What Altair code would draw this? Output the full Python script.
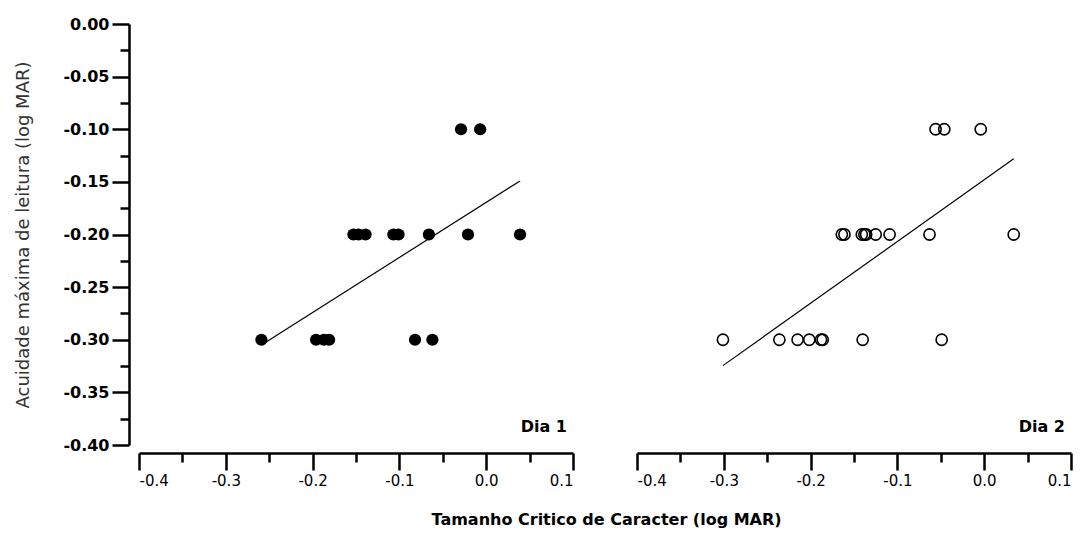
import altair as alt
import pandas as pd

# ---- data ----
d1_x = [-0.029, -0.007,
        -0.153, -0.147, -0.139, -0.107, -0.101, -0.066, -0.021, 0.039,
        -0.259, -0.196, -0.187, -0.181, -0.082, -0.062]
d1_y = [-0.1] * 2 + [-0.2] * 8 + [-0.3] * 6

d2_x = [-0.056, -0.046, -0.004,
        -0.164, -0.161, -0.141, -0.138, -0.136, -0.125, -0.109, -0.063, 0.034,
        -0.301, -0.236, -0.215, -0.2015, -0.188, -0.186, -0.140, -0.049]
d2_y = [-0.1] * 3 + [-0.2] * 9 + [-0.3] * 8

panel_labels = ["Dia 1", "Dia 2"]
x_major = [-0.4, -0.3, -0.2, -0.1, 0.0, 0.1]
x_minor = [-0.35, -0.25, -0.15, -0.05, 0.05]
y_major = [-0.40, -0.35, -0.30, -0.25, -0.20, -0.15, -0.10, -0.05, 0.00]
y_minor = [-0.375, -0.325, -0.275, -0.225, -0.175, -0.125, -0.075, -0.025]
x_title = "Tamanho Critico de Caracter (log MAR)"
y_title = "Acuidade máxima de leitura (log MAR)"

FONT = "DejaVu Sans"
W, H = 434, 421

xscale = alt.Scale(domain=[-0.4, 0.1], nice=False, zero=False)
yscale = alt.Scale(domain=[-0.4, 0.0], nice=False, zero=False)

x_lab = "(datum.value < 0 ? '-' : '') + format(abs(datum.value), '.1f')"
y_lab = "(datum.value < -0.0001 ? '-' : '') + format(abs(datum.value), '.2f')"

x_axis_major = alt.Axis(values=x_major, offset=8, tickSize=17, tickWidth=2.5,
                        domainWidth=2.5, domainColor="black", tickColor="black",
                        labelExpr=x_lab, labelFont=FONT, labelFontSize=15,
                        labelColor="black", labelPadding=3, grid=False, title=None,
                        orient="bottom")
x_axis_minor = alt.Axis(values=x_minor, offset=8, tickSize=9, tickWidth=2.5,
                        tickColor="black", domain=False, labels=False, grid=False,
                        title=None, orient="bottom")
y_axis_major = alt.Axis(values=y_major, offset=10, tickSize=17, tickWidth=2.5,
                        domainWidth=2.5, domainColor="black", tickColor="black",
                        labelExpr=y_lab, labelFont=FONT, labelFontSize=16,
                        labelFontWeight="bold", labelColor="black", labelPadding=3,
                        grid=False, title=y_title, titleFont=FONT, titleFontSize=18,
                        titleFontWeight="normal", titleColor="#333", titlePadding=30,
                        orient="left")
y_axis_minor = alt.Axis(values=y_minor, offset=10, tickSize=9, tickWidth=2.5,
                        tickColor="black", domain=False, labels=False, grid=False,
                        title=None, orient="left")


def panel(xs, ys, filled, label, show_y):
    df = pd.DataFrame({"x": xs, "y": ys})
    base = alt.Chart(df)
    if filled:
        pts = base.mark_point(filled=True, color="black", size=150, opacity=1)
    else:
        pts = base.mark_point(filled=False, color="black", size=125, strokeWidth=1.6,
                              opacity=1)
    pts = pts.encode(
        x=alt.X("x:Q", scale=xscale, axis=x_axis_major),
        y=alt.Y("y:Q", scale=yscale, axis=y_axis_major if show_y else None),
    )
    reg = base.transform_regression("x", "y").mark_line(color="black", strokeWidth=1.2).encode(
        x=alt.X("x:Q", scale=xscale, axis=x_axis_minor),
        y=alt.Y("y:Q", scale=yscale, axis=y_axis_minor if show_y else None),
    )
    txt = alt.Chart(pd.DataFrame({"label": [label]})).mark_text(
        align="right", baseline="middle", font=FONT, fontSize=16, fontWeight="bold",
        color="black"
    ).encode(x=alt.value(W - 6), y=alt.value(H - 18), text="label:N")
    return alt.layer(pts, reg, txt).resolve_axis(x="independent", y="independent").properties(
        width=W, height=H)


p1 = panel(d1_x, d1_y, True, panel_labels[0], True)
p2 = panel(d2_x, d2_y, False, panel_labels[1], False)

chart = alt.hconcat(p1, p2, spacing=64, bounds="flush").properties(
    title=alt.TitleParams(x_title, orient="bottom", anchor="middle", font=FONT,
                          fontSize=16, fontWeight="bold", color="black", offset=24,
                          dx=63),
    padding={"left": 14, "top": 16, "right": 5, "bottom": 5},
    background="white",
).configure_view(stroke=None)

chart.save("out.html", embed_options={"renderer": "svg", "actions": False})
